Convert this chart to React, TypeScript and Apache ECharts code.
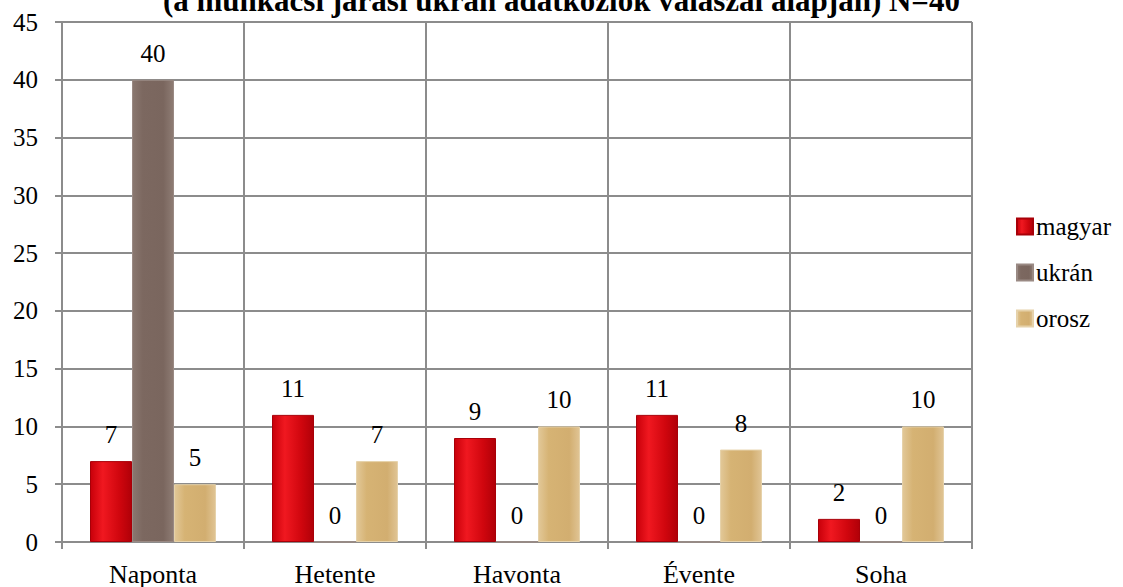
import React, { useEffect, useRef } from "react";
import * as echarts from "echarts";

const categories = ["Naponta", "Hetente", "Havonta", "Évente", "Soha"];
const seriesNames = ["magyar", "ukrán", "orosz"];
const magyar = [7, 11, 9, 11, 2];
const ukran = [40, 0, 0, 0, 0];
const orosz = [5, 7, 10, 8, 10];
const yTicks = { min: 0, max: 45, interval: 5 };
const titleText = "(a munkácsi járási ukrán adatközlők válaszai alapján) N=40";

const FONT = "Liberation Serif, serif";

function grad(stops: [number, string][]) {
  return new echarts.graphic.LinearGradient(
    0, 0, 1, 0,
    stops.map(([offset, color]) => ({ offset, color }))
  );
}

export default function App() {
  const ref = useRef<HTMLDivElement>(null);
  useEffect(() => {
    if (!ref.current) return;
    const chart = echarts.init(ref.current, null, { renderer: "svg" });
    const label = {
      show: true,
      position: "top" as const,
      distance: 14,
      color: "#000",
      fontFamily: FONT,
      fontSize: 25,
    };
    const colors = [
      grad([[0, "#c8000a"], [0.3, "#f01820"], [0.7, "#d0060e"], [1, "#b00008"]]),
      grad([[0, "#8a7870"], [0.25, "#7c6860"], [0.75, "#7a665e"], [1, "#8e7c74"]]),
      grad([[0, "#e2c898"], [0.25, "#d6b374"], [0.75, "#d2ae70"], [1, "#e0c494"]]),
    ];
    const borders = ["#a80008", "#9a8a84", "#e6d2aa"];
    const datas = [magyar, ukran, orosz];
    chart.setOption({
      animation: false,
      textStyle: { fontFamily: FONT },
      title: {
        text: titleText,
        left: "center",
        top: -15,
        padding: 0,
        textStyle: { fontFamily: FONT, fontSize: 31, fontWeight: "bold", color: "#000" },
      },
      legend: {
        orient: "vertical",
        left: 1016,
        top: 214,
        padding: 0,
        itemWidth: 16,
        itemHeight: 16,
        itemGap: 21,
        icon: "rect",
        textStyle: { fontFamily: FONT, fontSize: 25, color: "#000", padding: [0, 0, 0, -2] },
        data: seriesNames,
      },
      grid: { left: 62, right: 151, top: 22, bottom: 44, containLabel: false },
      xAxis: {
        type: "category",
        data: categories,
        axisLine: { lineStyle: { color: "#8c8c8c", width: 2 } },
        axisTick: { show: true, length: 7, lineStyle: { color: "#8c8c8c", width: 2 } },
        axisLabel: { fontFamily: FONT, fontSize: 26, color: "#000", margin: 19 },
        splitLine: { show: true, lineStyle: { color: "#8c8c8c", width: 2 } },
      },
      yAxis: {
        type: "value",
        min: yTicks.min,
        max: yTicks.max,
        interval: yTicks.interval,
        axisLine: { show: true, lineStyle: { color: "#8c8c8c", width: 2 } },
        axisTick: { show: true, length: 7, lineStyle: { color: "#8c8c8c", width: 2 } },
        axisLabel: { fontFamily: FONT, fontSize: 25, color: "#000", margin: 24 },
        splitLine: { show: true, lineStyle: { color: "#8c8c8c", width: 2 } },
      },
      series: seriesNames.map((name, i) => ({
        name,
        type: "bar",
        data: datas[i],
        barWidth: 42,
        barGap: "0%",
        itemStyle: { color: colors[i], borderColor: borders[i], borderWidth: 1 },
        label,
      })),
    });
    return () => chart.dispose();
  }, []);
  return (
    <div
      ref={ref}
      style={{ position: "absolute", left: 0, top: 0, width: 1123, height: 587 }}
    />
  );
}
